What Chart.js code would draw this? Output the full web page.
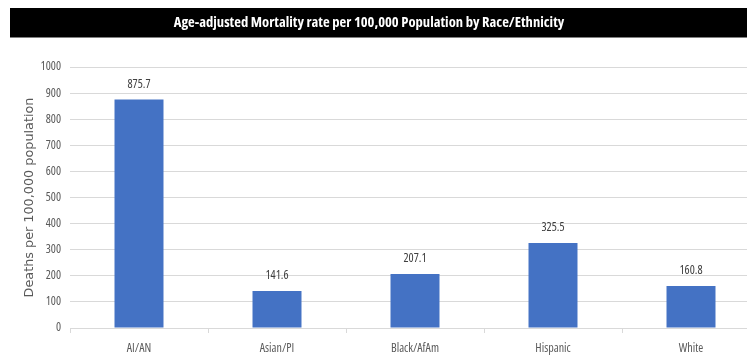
<!DOCTYPE html>
<html>
<head>
<meta charset="utf-8">
<script src="https://cdn.jsdelivr.net/npm/chart.js@4/dist/chart.umd.min.js"></script>
<style>
  html, body { margin: 0; padding: 0; background: #ffffff; overflow: hidden; }
  #wrap { width: 760px; height: 358px; }
</style>
</head>
<body>
<div id="wrap"><canvas id="chart" width="760" height="358"></canvas></div>
<script>
// Age-adjusted mortality rate per 100,000 population, by race/ethnicity
const categories = ['AI/AN', 'Asian/PI', 'Black/AfAm', 'Hispanic', 'White'];
const mortalityRates = [875.7, 141.6, 207.1, 325.5, 160.8];
const yTicks = [0, 100, 200, 300, 400, 500, 600, 700, 800, 900, 1000];

const chartTitle = 'Age-adjusted Mortality rate per 100,000 Population by Race/Ethnicity';
const yAxisTitle = 'Deaths per 100,000 population';

// Condensed Open Sans keeps the labels compact
const baseFamily = "'Open Sans', sans-serif";

// Black banner with the chart title in white
const titleBanner = {
  id: 'titleBanner',
  beforeDraw(chart) {
    const ctx = chart.ctx;
    ctx.save();
    ctx.fillStyle = '#000000';
    ctx.fillRect(10, 8, chart.width - 10, 30);
    ctx.fillStyle = '#7f7f7f';
    ctx.fillRect(10, 37, chart.width - 10, 1);
    ctx.font = "bold condensed 14.6px " + baseFamily;
    ctx.fillStyle = '#ffffff';
    ctx.textAlign = 'center';
    ctx.textBaseline = 'middle';
    ctx.fillText(chartTitle, 369, 23);
    ctx.restore();
  }
};

// Value labels above each bar
const valueLabels = {
  id: 'valueLabels',
  afterDatasetsDraw(chart) {
    const ctx = chart.ctx;
    const meta = chart.getDatasetMeta(0);
    ctx.save();
    ctx.font = 'condensed 12px ' + baseFamily;
    ctx.fillStyle = '#404040';
    ctx.textAlign = 'center';
    ctx.textBaseline = 'middle';
    meta.data.forEach((bar, i) => {
      const v = chart.data.datasets[0].data[i];
      ctx.fillText(v.toFixed(1), bar.x, bar.y - 15);
    });
    ctx.restore();
  }
};

new Chart(document.getElementById('chart'), {
  type: 'bar',
  data: {
    labels: categories,
    datasets: [{
      data: mortalityRates,
      backgroundColor: '#4472C4',
      borderWidth: 0,
      barPercentage: 0.355,
      categoryPercentage: 1.0
    }]
  },
  options: {
    responsive: false,
    animation: false,
    devicePixelRatio: 1,
    layout: { padding: { left: 0, right: 0, top: 67, bottom: 0 } },
    plugins: {
      legend: { display: false },
      tooltip: { enabled: false },
      title: { display: false }
    },
    scales: {
      x: {
        offset: true,
        grid: {
          display: true,
          offset: true,
          drawOnChartArea: false,
          drawTicks: true,
          tickLength: 5,
          color: '#d9d9d9'
        },
        border: { display: true, color: '#d9d9d9' },
        ticks: {
          color: '#595959',
          font: { family: baseFamily, size: 12, weight: 'condensed' },
          padding: 8,
          maxRotation: 0
        },
        afterFit(scale) { scale.height = 30; }
      },
      y: {
        min: 0,
        max: 1000,
        afterBuildTicks(scale) { scale.ticks = yTicks.map(v => ({ value: v })); },
        grid: { color: '#d9d9d9', drawTicks: false },
        border: { display: false },
        ticks: {
          color: '#595959',
          font: { family: baseFamily, size: 12, weight: 'condensed' },
          padding: 9,
          callback: (value) => String(value)
        },
        title: {
          display: true,
          text: yAxisTitle,
          color: '#595959',
          font: { family: "'DejaVu Sans', sans-serif", size: 12.8 },
          padding: { top: 22, bottom: 0 }
        },
        afterFit(scale) { scale.width = 70; }
      }
    }
  },
  plugins: [titleBanner, valueLabels]
});
</script>
</body>
</html>
